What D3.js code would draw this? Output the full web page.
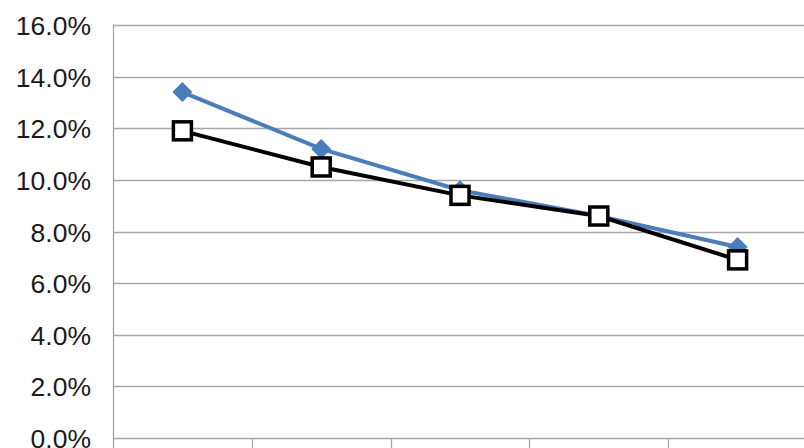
<!DOCTYPE html>
<html><head><meta charset="utf-8">
<script src="https://cdn.jsdelivr.net/npm/d3@7"></script>
<style>body{margin:0;background:#fff}svg{display:block}</style>
</head><body><svg id="c" width="804" height="448"></svg>
<script>
const categories = ["1","2","3","4","5"];
const seriesA = [0.134, 0.112, 0.096, 0.086, 0.074];
const seriesB = [0.119, 0.105, 0.094, 0.086, 0.069];
const yTicks = [0,0.02,0.04,0.06,0.08,0.10,0.12,0.14,0.16];

const svg = d3.select("#c");
const L=113, R=807, T=25, B=438;
const x = d3.scaleBand().domain(categories).range([L,R]);
const y = d3.scaleLinear().domain([0,0.16]).range([B,T]);
const cx = d => x(d)+x.bandwidth()/2;

svg.append("g").selectAll("line").data(yTicks).join("line")
  .attr("x1",L).attr("x2",R).attr("y1",d=>Math.round(y(d))+0.5).attr("y2",d=>Math.round(y(d))+0.5)
  .attr("stroke","#a6a6a6").attr("stroke-width",1.3);
svg.append("line").attr("x1",L+0.5).attr("x2",L+0.5).attr("y1",T).attr("y2",448).attr("stroke","#a6a6a6").attr("stroke-width",1.3);
svg.append("g").selectAll("line").data(categories).join("line")
  .attr("x1",(d,i)=>Math.round(L+(i+1)*x.bandwidth())+0.5).attr("x2",(d,i)=>Math.round(L+(i+1)*x.bandwidth())+0.5)
  .attr("y1",B).attr("y2",448).attr("stroke","#a6a6a6").attr("stroke-width",1.3);
svg.append("g").selectAll("text").data(yTicks).join("text")
  .attr("x",91).attr("y",d=>y(d)+10).attr("text-anchor","end")
  .attr("font-family","Liberation Sans, Arial, sans-serif").attr("font-size",26.5).attr("fill","#1a1a1a")
  .text(d=>d3.format(".1%")(d));

const line = d3.line().x((d,i)=>cx(categories[i])).y(d=>y(d));
svg.append("path").attr("d",line(seriesA)).attr("fill","none").attr("stroke","#4a7ebb").attr("stroke-width",4);
svg.append("g").selectAll("path").data(seriesA).join("path")
  .attr("transform",(d,i)=>`translate(${cx(categories[i])},${y(d)})`)
  .attr("d","M0,-10L10,0L0,10L-10,0Z").attr("fill","#4a7ebb");
svg.append("path").attr("d",line(seriesB)).attr("fill","none").attr("stroke","#000").attr("stroke-width",4);
svg.append("g").selectAll("rect").data(seriesB).join("rect")
  .attr("x",(d,i)=>cx(categories[i])-9).attr("y",d=>y(d)-9).attr("width",18).attr("height",18)
  .attr("fill","#fff").attr("stroke","#000").attr("stroke-width",3.5);
</script></body></html>
